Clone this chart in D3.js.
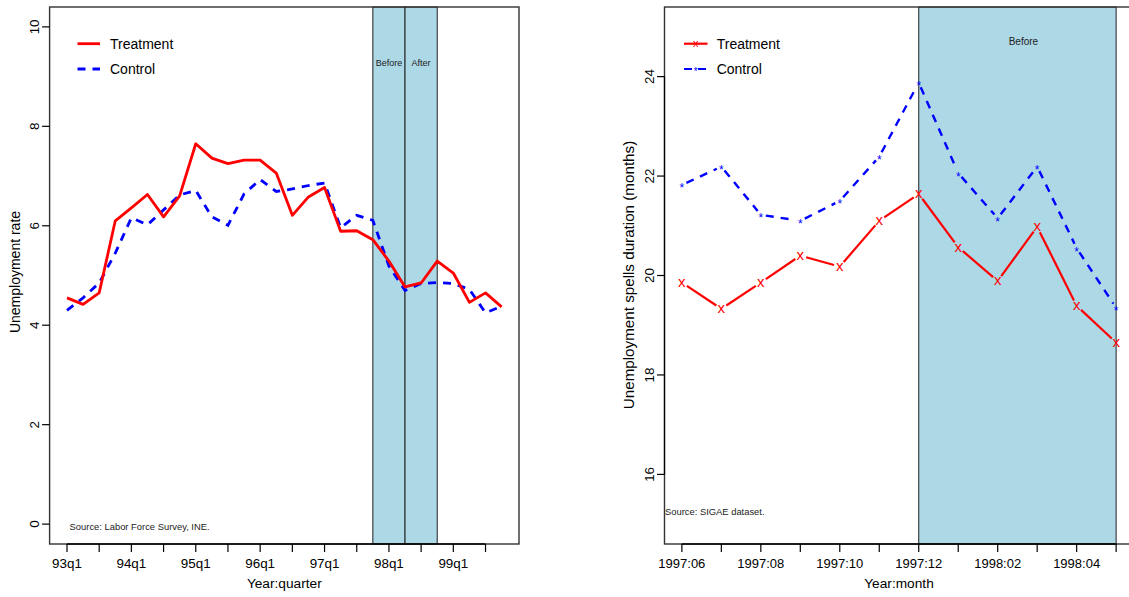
<!DOCTYPE html>
<html>
<head>
<meta charset="utf-8">
<script src="https://cdn.jsdelivr.net/npm/d3@7"></script>
<style>
  body { margin: 0; background: #fff; }
  svg { display: block; font-family: "Liberation Sans", Arial, sans-serif; }
</style>
</head>
<body>
<div id="chart"></div>
<script>
// left panel: unemployment rate by quarter
const quarters = ["93q1","93q2","93q3","93q4","94q1","94q2","94q3","94q4",
  "95q1","95q2","95q3","95q4","96q1","96q2","96q3","96q4",
  "97q1","97q2","97q3","97q4","98q1","98q2","98q3","98q4",
  "99q1","99q2","99q3","99q4"];
const treatRate = [4.55, 4.42, 4.65, 6.10, 6.36, 6.63, 6.18, 6.60, 7.65, 7.36, 7.25, 7.32, 7.32, 7.06,
  6.21, 6.58, 6.77, 5.89, 5.90, 5.72, 5.29, 4.77, 4.85, 5.29, 5.05, 4.46, 4.65, 4.37];
const controlRate = [4.30, 4.55, 4.85, 5.45, 6.16, 6.02, 6.32, 6.62, 6.71, 6.18, 6.01, 6.64, 6.93, 6.69,
  6.74, 6.81, 6.86, 5.96, 6.21, 6.11, 5.19, 4.70, 4.84, 4.86, 4.84, 4.72, 4.25, 4.38];
const rateTicks = [0, 2, 4, 6, 8, 10];
const periodsL = [
  { label: "Before", from: "97q4", to: "98q2" },
  { label: "After", from: "98q2", to: "98q4" }
];

// right panel: spell duration by month
const months = ["1997:06","1997:07","1997:08","1997:09","1997:10","1997:11",
  "1997:12","1998:01","1998:02","1998:03","1998:04","1998:05"];
const treatSpell = [19.86, 19.33, 19.86, 20.40, 20.18, 21.10, 21.64, 20.57, 19.89, 20.98, 19.39, 18.65];
const controlSpell = [21.82, 22.19, 21.22, 21.10, 21.50, 22.39, 23.88, 22.06, 21.15, 22.19, 20.55, 19.35];
const spellTicks = [16, 18, 20, 22, 24];
const periodsR = [{ label: "Before", from: "1997:12", to: "1998:05" }];

const svg = d3.select("#chart").append("svg")
  .attr("width", 1129)
  .attr("height", 597);

const plotTop = 7, plotBottom = 544;

// ---------- left panel ----------
const xL = d3.scaleLinear().domain([-1.08, quarters.length - 1 + 1.08]).range([49.6, 519]);
const yL = d3.scaleLinear().domain([-0.4, 10.4]).range([plotBottom, plotTop]);

const gL = svg.append("g");

periodsL.forEach(p => {
  const x0 = xL(quarters.indexOf(p.from)), x1 = xL(quarters.indexOf(p.to));
  gL.append("rect")
    .attr("x", x0).attr("y", plotTop)
    .attr("width", x1 - x0).attr("height", plotBottom - plotTop)
    .attr("fill", "#add8e6")
    .attr("stroke", "#222")
    .attr("stroke-width", 1);
  gL.append("text")
    .attr("x", (x0 + x1) / 2).attr("y", 66)
    .attr("text-anchor", "middle")
    .style("font-size", "9px")
    .attr("fill", "#222")
    .text(p.label);
});

const lineL = d3.line().x((d, i) => xL(i)).y(d => yL(d));

gL.append("path").datum(controlRate)
  .attr("fill", "none").attr("stroke", "blue")
  .attr("stroke-width", 2.8).attr("stroke-dasharray", "8,7")
  .attr("d", lineL);
gL.append("path").datum(treatRate)
  .attr("fill", "none").attr("stroke", "red")
  .attr("stroke-width", 2.8).attr("stroke-linejoin", "round")
  .attr("d", lineL);

gL.append("rect")
  .attr("x", 49.6).attr("y", plotTop)
  .attr("width", 519 - 49.6).attr("height", plotBottom - plotTop)
  .attr("fill", "none").attr("stroke", "#333").attr("stroke-width", 1.4);

// x axis (ticks every half year, labels each year)
const qTickIdx = d3.range(0, quarters.length, 2);
gL.append("line")
  .attr("x1", xL(0)).attr("x2", xL(qTickIdx[qTickIdx.length - 1]))
  .attr("y1", plotBottom).attr("y2", plotBottom)
  .attr("stroke", "#000").attr("stroke-width", 1.5);
qTickIdx.forEach(i => {
  gL.append("line")
    .attr("x1", xL(i)).attr("x2", xL(i))
    .attr("y1", plotBottom).attr("y2", plotBottom + 8)
    .attr("stroke", "#000").attr("stroke-width", 1.2);
  if (i % 4 === 0) {
    gL.append("text")
      .attr("x", xL(i)).attr("y", 568)
      .attr("text-anchor", "middle")
      .style("font-size", "13.4px")
      .text(quarters[i]);
  }
});

// y axis
rateTicks.forEach(v => {
  gL.append("line")
    .attr("x1", 49.6 - 7.5).attr("x2", 49.6)
    .attr("y1", yL(v)).attr("y2", yL(v))
    .attr("stroke", "#000").attr("stroke-width", 1.2);
  gL.append("text")
    .attr("transform", `translate(34,${yL(v)}) rotate(-90)`)
    .attr("dy", "0.35em")
    .attr("text-anchor", "middle")
    .style("font-size", "13.4px")
    .text(v);
});

gL.append("text")
  .attr("transform", `translate(15,272) rotate(-90)`)
  .attr("dy", "0.35em")
  .attr("text-anchor", "middle")
  .style("font-size", "14px")
  .text("Unemployment rate");
gL.append("text")
  .attr("x", (49.6 + 519) / 2).attr("y", 588)
  .attr("text-anchor", "middle")
  .style("font-size", "13.7px")
  .text("Year:quarter");
gL.append("text")
  .attr("x", 69.6).attr("y", 530)
  .style("font-size", "9.4px")
  .attr("fill", "#222")
  .text("Source: Labor Force Survey, INE.");

// legend
const legL = gL.append("g");
[["Treatment", "red", null, 43.7], ["Control", "blue", "8,7", 69]].forEach(([name, col, dash, y]) => {
  legL.append("line")
    .attr("x1", 77.5).attr("x2", 100).attr("y1", y).attr("y2", y)
    .attr("stroke", col).attr("stroke-width", 2.8)
    .attr("stroke-dasharray", dash);
  legL.append("text")
    .attr("x", 110).attr("y", y).attr("dy", "0.35em")
    .style("font-size", "14px")
    .text(name);
});

// ---------- right panel ----------
const xR = d3.scaleLinear().domain([-0.44, months.length - 1 + 0.44]).range([664.5, 1133.5]);
const yR = d3.scaleLinear().domain([14.6, 25.4]).range([plotBottom, plotTop]);

const gR = svg.append("g");

periodsR.forEach(p => {
  const x0 = xR(months.indexOf(p.from)), x1 = xR(months.indexOf(p.to));
  gR.append("rect")
    .attr("x", x0).attr("y", plotTop)
    .attr("width", x1 - x0).attr("height", plotBottom - plotTop)
    .attr("fill", "#add8e6")
    .attr("stroke", "#222")
    .attr("stroke-width", 1);
  gR.append("text")
    .attr("x", (x0 + x1) / 2 + 6).attr("y", 45)
    .attr("text-anchor", "middle")
    .style("font-size", "10px")
    .attr("fill", "#222")
    .text(p.label);
});

gR.append("rect")
  .attr("x", 664.5).attr("y", plotTop)
  .attr("width", 1133.5 - 664.5).attr("height", plotBottom - plotTop)
  .attr("fill", "none").attr("stroke", "#333").attr("stroke-width", 1.4);

// type="b" style: segments with gaps around the point symbols
function gappedSegments(g, values, col, width, dash, gap) {
  for (let i = 0; i < values.length - 1; i++) {
    const x0 = xR(i), y0 = yR(values[i]), x1 = xR(i + 1), y1 = yR(values[i + 1]);
    const len = Math.hypot(x1 - x0, y1 - y0);
    const ux = (x1 - x0) / len, uy = (y1 - y0) / len;
    g.append("line")
      .attr("x1", x0 + ux * gap).attr("y1", y0 + uy * gap)
      .attr("x2", x1 - ux * gap).attr("y2", y1 - uy * gap)
      .attr("stroke", col).attr("stroke-width", width)
      .attr("stroke-dasharray", dash);
  }
}

gappedSegments(gR, controlSpell, "blue", 2.4, "8,7", 5);
gappedSegments(gR, treatSpell, "red", 2.2, null, 6);

gR.selectAll(".mc").data(controlSpell).join("text")
  .attr("x", (d, i) => xR(i)).attr("y", d => yR(d))
  .attr("dy", "0.62em")
  .attr("text-anchor", "middle")
  .attr("fill", "blue")
  .style("font-size", "12px")
  .text("*");
gR.selectAll(".mt").data(treatSpell).join("text")
  .attr("x", (d, i) => xR(i)).attr("y", d => yR(d))
  .attr("dy", "0.3em")
  .attr("text-anchor", "middle")
  .attr("fill", "red")
  .style("font-size", "15px")
  .text("x");

// x axis
gR.append("line")
  .attr("x1", xR(0)).attr("x2", xR(months.length - 1))
  .attr("y1", plotBottom).attr("y2", plotBottom)
  .attr("stroke", "#000").attr("stroke-width", 1.5);
months.forEach((m, i) => {
  gR.append("line")
    .attr("x1", xR(i)).attr("x2", xR(i))
    .attr("y1", plotBottom).attr("y2", plotBottom + 8)
    .attr("stroke", "#000").attr("stroke-width", 1.2);
  if (i % 2 === 0) {
    gR.append("text")
      .attr("x", xR(i)).attr("y", 568)
      .attr("text-anchor", "middle")
      .style("font-size", "13px")
      .text(m);
  }
});

// y axis
gR.append("line")
  .attr("x1", 664.5).attr("x2", 664.5)
  .attr("y1", yR(16)).attr("y2", yR(24))
  .attr("stroke", "#000").attr("stroke-width", 1.2);
spellTicks.forEach(v => {
  gR.append("line")
    .attr("x1", 664.5 - 7.5).attr("x2", 664.5)
    .attr("y1", yR(v)).attr("y2", yR(v))
    .attr("stroke", "#000").attr("stroke-width", 1.2);
  gR.append("text")
    .attr("transform", `translate(649,${yR(v)}) rotate(-90)`)
    .attr("dy", "0.35em")
    .attr("text-anchor", "middle")
    .style("font-size", "13.4px")
    .text(v);
});

gR.append("text")
  .attr("transform", `translate(629,275) rotate(-90)`)
  .attr("dy", "0.35em")
  .attr("text-anchor", "middle")
  .style("font-size", "15.2px")
  .text("Unemployment spells duration (months)");
gR.append("text")
  .attr("x", (664.5 + 1133.5) / 2).attr("y", 588)
  .attr("text-anchor", "middle")
  .style("font-size", "13.7px")
  .text("Year:month");
gR.append("text")
  .attr("x", 665).attr("y", 515)
  .style("font-size", "9.4px")
  .attr("fill", "#222")
  .text("Source: SIGAE dataset.");

// legend
const legR = gR.append("g");
[["Treatment", "red", null, 43.7, "x", "0.3em", 11], ["Control", "blue", "8,6", 69, "*", "0.62em", 10]]
  .forEach(([name, col, dash, y, sym, dy, fs]) => {
    legR.append("line")
      .attr("x1", 684).attr("x2", 707.5).attr("y1", y).attr("y2", y)
      .attr("stroke", col).attr("stroke-width", 2.2)
      .attr("stroke-dasharray", dash);
    legR.append("text")
      .attr("x", 695.7).attr("y", y).attr("dy", dy)
      .attr("text-anchor", "middle")
      .attr("fill", col)
      .style("font-size", fs + "px")
      .text(sym);
    legR.append("text")
      .attr("x", 716.7).attr("y", y).attr("dy", "0.35em")
      .style("font-size", "14px")
      .text(name);
  });
</script>
</body>
</html>
